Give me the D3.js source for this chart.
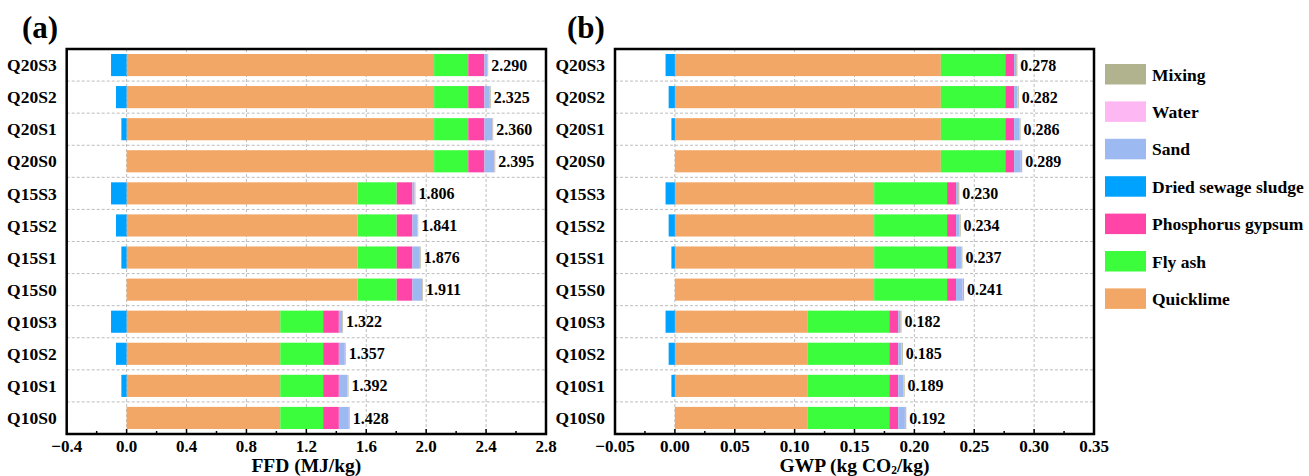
<html>
    <head>
        <style>
            body{ margin:0; background:#fff; }
            svg, text{ font-family: "Liberation Serif", "Times New Roman", Times, serif; }
            text{ font-weight: bold; fill:#000; }
            .grid{ stroke:#bdbdbd; stroke-width:1; stroke-dasharray:3,2; fill:none; }
        </style>
        <script src="https://d3js.org/d3.v7.min.js" charset="utf-8"></script>
    </head>
    <body>
        <div id="viz"></div>
        <script>
            // categories, top to bottom
            const categories = ["Q20S3","Q20S2","Q20S1","Q20S0","Q15S3","Q15S2","Q15S1","Q15S0","Q10S3","Q10S2","Q10S1","Q10S0"];
            const seriesNames = ["Quicklime","Fly ash","Phosphorus gypsum","Sand","Water","Mixing"];
            const legendNames = ["Mixing","Water","Sand","Dried sewage sludge","Phosphorus gypsum","Fly ash","Quicklime"];
            const colors = {
                "Quicklime": "#F3A766", "Fly ash": "#3BFD3B", "Phosphorus gypsum": "#FF46A8",
                "Dried sewage sludge": "#00A2FF", "Sand": "#9DB9F1", "Water": "#FDB8F4", "Mixing": "#B0B38D"
            };

            // (a) FFD, MJ/kg
            const ffdQuicklime = [2.053,2.053,2.053,2.053,1.541,1.541,1.541,1.541,1.026,1.026,1.026,1.026];
            const ffdFlyAsh    = [0.228,0.228,0.228,0.228,0.262,0.262,0.262,0.262,0.286,0.286,0.286,0.286];
            const ffdGypsum    = [0.108,0.108,0.108,0.108,0.105,0.105,0.105,0.105,0.105,0.105,0.105,0.105];
            const ffdSludge    = [-0.104,-0.071,-0.035,0,-0.104,-0.071,-0.035,0,-0.104,-0.071,-0.035,0];
            const ffdSand      = [0.019,0.036,0.052,0.066,0.014,0.033,0.050,0.064,0.022,0.040,0.058,0.067];
            const ffdWater     = [0.002,0.002,0.002,0.002,0.002,0.002,0.002,0.002,0.002,0.002,0.002,0.002];
            const ffdMixing    = [0.004,0.004,0.004,0.004,0.004,0.004,0.004,0.004,0.004,0.004,0.004,0.004];
            const ffdTotals    = ["2.290","2.325","2.360","2.395","1.806","1.841","1.876","1.911","1.322","1.357","1.392","1.428"];

            // (b) GWP, kg CO2/kg
            const gwpQuicklime = [0.2221,0.2221,0.2221,0.2221,0.1664,0.1664,0.1664,0.1664,0.1106,0.1106,0.1106,0.1106];
            const gwpFlyAsh    = [0.0538,0.0538,0.0538,0.0538,0.0609,0.0609,0.0609,0.0609,0.0684,0.0684,0.0684,0.0684];
            const gwpGypsum    = [0.0074,0.0074,0.0074,0.0074,0.0075,0.0075,0.0075,0.0075,0.0075,0.0075,0.0075,0.0075];
            const gwpSludge    = [-0.0078,-0.0052,-0.0029,0,-0.0078,-0.0052,-0.0029,0,-0.0078,-0.0052,-0.0029,0];
            const gwpSand      = [0.0016,0.0027,0.0042,0.0056,0.0016,0.0027,0.0042,0.0056,0.0016,0.0027,0.0042,0.0056];
            const gwpWater     = [0.0003,0.0003,0.0003,0.0003,0.0003,0.0003,0.0003,0.0003,0.0003,0.0003,0.0003,0.0003];
            const gwpMixing    = [0.0008,0.0008,0.0008,0.0008,0.0008,0.0008,0.0008,0.0008,0.0008,0.0008,0.0008,0.0008];
            const gwpTotals    = ["0.278","0.282","0.286","0.289","0.230","0.234","0.237","0.241","0.182","0.185","0.189","0.192"];

            const svg = d3.select("#viz").append("svg").attr("width", 1309).attr("height", 476)
                            .attr("font-family", "Liberation Serif, Times New Roman, serif");

            function panel(opt) {
                const x = d3.scaleLinear().domain(opt.domain).range([opt.left, opt.right]);
                const y = d3.scaleBand().domain(categories).range([opt.top, opt.bottom])
                            .paddingInner(0.31).paddingOuter(0.155);
                const g = svg.append("g");

                // grid
                g.selectAll(".vgrid").data(opt.grid).join("line").attr("class","grid")
                    .attr("x1", d => x(d)).attr("x2", d => x(d))
                    .attr("y1", opt.top).attr("y2", opt.bottom);
                g.selectAll(".hgrid").data(categories.slice(1)).join("line").attr("class","grid")
                    .attr("x1", opt.left).attr("x2", opt.right)
                    .attr("y1", d => y(d) - y.step()*y.paddingInner()/2)
                    .attr("y2", d => y(d) - y.step()*y.paddingInner()/2);

                // stacked bars
                const rows = categories.map((c, i) => {
                    const r = { cat: c, sludge: opt.sludge[i], total: opt.totals[i] };
                    seriesNames.forEach((s, k) => r[s] = opt.values[k][i]);
                    return r;
                });
                const stack = d3.stack().keys(seriesNames)(rows);
                stack.forEach(layer => {
                    g.append("g").selectAll("rect").data(layer).join("rect")
                        .attr("x", d => x(d[0]))
                        .attr("y", d => y(d.data.cat))
                        .attr("width", d => Math.max(0, x(d[1]) - x(d[0])))
                        .attr("height", y.bandwidth())
                        .attr("fill", colors[layer.key]);
                });
                g.append("g").selectAll("rect").data(rows.filter(d => d.sludge < 0)).join("rect")
                    .attr("x", d => x(d.sludge))
                    .attr("y", d => y(d.cat))
                    .attr("width", d => x(0) - x(d.sludge))
                    .attr("height", y.bandwidth())
                    .attr("fill", colors["Dried sewage sludge"]);

                // total labels
                const last = stack[stack.length - 1];
                g.append("g").selectAll("text").data(last).join("text")
                    .attr("x", d => x(d[1]) + 3)
                    .attr("y", d => y(d.data.cat) + y.bandwidth()/2)
                    .attr("dy", "0.35em")
                    .style("font-size", "16px")
                    .text(d => d.data.total);

                // category labels
                g.append("g").selectAll("text").data(categories).join("text")
                    .attr("x", opt.left - 10)
                    .attr("y", d => y(d) + y.bandwidth()/2)
                    .attr("dy", "0.35em")
                    .attr("text-anchor", "end")
                    .style("font-size", "17.5px")
                    .text(d => d);

                // x ticks, inward
                const tg = g.append("g");
                tg.selectAll(".minor").data(opt.minor).join("line")
                    .attr("x1", d => x(d)).attr("x2", d => x(d))
                    .attr("y1", opt.bottom).attr("y2", opt.bottom - 3)
                    .attr("stroke", "#000").attr("stroke-width", 1.5);
                tg.selectAll(".major").data(opt.ticks).join("line")
                    .attr("x1", d => x(d)).attr("x2", d => x(d))
                    .attr("y1", opt.bottom).attr("y2", opt.bottom - 5)
                    .attr("stroke", "#000").attr("stroke-width", 1.5);
                tg.selectAll("text").data(opt.ticks).join("text")
                    .attr("x", d => x(d)).attr("y", opt.bottom + 18)
                    .attr("text-anchor", "middle")
                    .style("font-size", "17px")
                    .text(d => opt.fmt(d));

                // frame
                g.append("rect")
                    .attr("x", opt.left).attr("y", opt.top)
                    .attr("width", opt.right - opt.left).attr("height", opt.bottom - opt.top)
                    .attr("fill", "none").attr("stroke", "#000").attr("stroke-width", 2.5);

                // axis title
                const t = g.append("text")
                    .attr("x", (opt.left + opt.right)/2).attr("y", opt.bottom + 38)
                    .attr("text-anchor", "middle")
                    .style("font-size", "19.5px");
                opt.title(t);

                // panel letter
                g.append("text").attr("x", opt.letterX).attr("y", 38)
                    .style("font-size", "31px").text(opt.letter);
            }

            const ffdTicks = [-0.4,0,0.4,0.8,1.2,1.6,2.0,2.4,2.8];
            const ffdMinor = [-0.2,0.2,0.6,1.0,1.4,1.8,2.2,2.6];
            const gwpTicks = [-0.05,0,0.05,0.10,0.15,0.20,0.25,0.30,0.35];
            const gwpMinor = [-0.025,0.025,0.075,0.125,0.175,0.225,0.275,0.325];

            panel({
                left: 66.7, right: 546, top: 49, bottom: 434,
                domain: [-0.4, 2.8], ticks: ffdTicks, minor: ffdMinor,
                grid: [0,0.4,0.8,1.2,1.6,2.0,2.4],
                fmt: d3.format(".1f"),
                values: [ffdQuicklime, ffdFlyAsh, ffdGypsum, ffdSand, ffdWater, ffdMixing],
                sludge: ffdSludge, totals: ffdTotals,
                letter: "(a)", letterX: 22,
                title: t => t.text("FFD (MJ/kg)")
            });

            panel({
                left: 615, right: 1094, top: 49, bottom: 434,
                domain: [-0.05, 0.35], ticks: gwpTicks, minor: gwpMinor,
                grid: [0,0.05,0.10,0.15,0.20,0.25,0.30],
                fmt: d3.format(".2f"),
                values: [gwpQuicklime, gwpFlyAsh, gwpGypsum, gwpSand, gwpWater, gwpMixing],
                sludge: gwpSludge, totals: gwpTotals,
                letter: "(b)", letterX: 567,
                title: t => {
                    t.append("tspan").text("GWP (kg CO");
                    t.append("tspan").attr("dy", 2).style("font-size", "11.5px").text("2");
                    t.append("tspan").attr("dy", -2).text("/kg)");
                }
            });

            // legend
            const legend = svg.append("g").attr("transform", "translate(1105, 64)");
            const item = legend.selectAll("g").data(legendNames).join("g")
                .attr("transform", (d, i) => `translate(0, ${i*37.4})`);
            item.append("rect").attr("width", 41).attr("height", 20.5)
                .attr("fill", d => colors[d]);
            item.append("text").attr("x", 47).attr("y", 10.5).attr("dy", "0.35em")
                .style("font-size", "17.5px").text(d => d);
        </script>
    </body>
</html>
